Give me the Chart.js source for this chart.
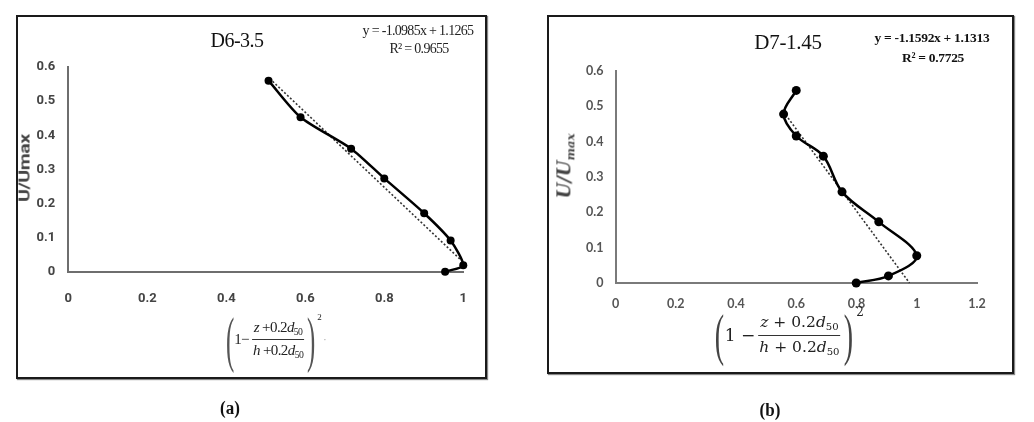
<!DOCTYPE html>
<html>
<head>
<meta charset="utf-8">
<script src="https://cdn.jsdelivr.net/npm/chart.js@4/dist/chart.umd.min.js"></script>
<style>
  html,body{margin:0;padding:0;background:#fff;}
  body{width:1034px;height:422px;position:relative;overflow:hidden;font-family:"Liberation Serif",serif;}
  .panel{position:absolute;border:2px solid #1a1a1a;box-sizing:border-box;box-shadow:1px 1px 1px #888;}
  canvas{position:absolute;}
  .t{position:absolute;transform:translate(-50%,-50%);white-space:nowrap;line-height:1;}
  .frm{position:absolute;transform:translate(-50%,-50%);display:flex;align-items:center;white-space:nowrap;color:#222;}
  .frac{display:inline-flex;flex-direction:column;align-items:center;margin:0 2px;}
  .frac .num{border-bottom:1px solid #333;padding:0 2px 2px 2px;}
  .frac .den{padding:2px 2px 0 2px;}
  .paren{display:inline-block;font-weight:100;line-height:1;}
  i{font-style:italic;}
  sub{font-size:65%;vertical-align:-0.3em;}
</style>
</head>
<body>
<div class="panel" style="left:16px;top:15px;width:471px;height:364px;"></div>
<div class="panel" style="left:547px;top:15px;width:467px;height:359px;"></div>

<canvas id="ca" width="469" height="362" style="left:17px;top:16px;"></canvas>
<canvas id="cb" width="465" height="357" style="left:548px;top:16px;"></canvas>

<!-- panel (a) texts -->
<div class="t" style="left:237px;top:40px;font-size:20px;color:#111;letter-spacing:-0.5px;">D6-3.5</div>
<div class="t" style="left:418px;top:31px;font-size:14px;color:#222;letter-spacing:-0.7px;">y = -1.0985x + 1.1265</div>
<div class="t" style="left:419px;top:49px;font-size:14px;color:#222;letter-spacing:-0.7px;">R² = 0.9655</div>
<div class="t" style="left:25px;top:168px;transform:translate(-50%,-50%) rotate(-90deg) scaleX(1.3);font-family:Roboto,sans-serif;font-weight:bold;font-size:15px;letter-spacing:-0.3px;color:#444;">U/Umax</div>
<div class="frm" style="left:273px;top:339px;font-size:15px;letter-spacing:-0.6px;">
  <span class="paren" style="font-size:62px;transform:scaleX(0.4);margin-right:-6px;color:#555;">(</span>
  <span>1−</span>
  <span class="frac"><span class="num"><i>z</i> +0.2<i>d</i><sub>50</sub></span><span class="den"><i>h</i> +0.2<i>d</i><sub>50</sub></span></span>
  <span class="paren" style="font-size:62px;transform:scaleX(0.4);margin-left:-6px;color:#555;">)</span>
  <span style="font-size:9px;align-self:flex-start;margin-top:4px;margin-left:-4px;">2</span>
  <span style="font-size:10px;margin-left:2px;color:#999;">·</span>
</div>
<div class="t" style="left:230px;top:408px;font-size:17px;font-weight:bold;color:#111;transform:translate(-50%,-50%) scaleY(1.15);">(a)</div>

<!-- panel (b) texts -->
<div class="t" style="left:788px;top:42px;font-size:21px;color:#111;letter-spacing:-0.3px;">D7-1.45</div>
<div class="t" style="left:932px;top:38px;font-size:13.5px;font-weight:bold;color:#111;letter-spacing:-0.3px;">y = -1.1592x + 1.1313</div>
<div class="t" style="left:933px;top:58px;font-size:13.5px;font-weight:bold;color:#111;letter-spacing:-0.3px;">R² = 0.7725</div>
<div class="t" style="left:566px;top:166px;transform:translate(-50%,-50%) rotate(-90deg);font-family:'DejaVu Serif',serif;font-style:italic;font-weight:bold;font-size:18px;color:#444;">U/U<sub style="font-style:italic;">max</sub></div>
<div class="frm" style="left:787px;top:335px;font-size:17px;font-family:'DejaVu Serif',serif;">
  <span class="paren" style="font-size:56px;transform:scaleX(0.5);margin-right:-4px;color:#444;font-family:'Liberation Serif',serif;">(</span>
  <span>1 − </span>
  <span class="frac" style="font-size:15.5px;"><span class="num"><i>z</i> + 0.2<i>d</i><sub>50</sub></span><span class="den"><i>h</i> + 0.2<i>d</i><sub>50</sub></span></span>
  <span class="paren" style="font-size:56px;transform:scaleX(0.5);margin-left:-4px;color:#444;font-family:'Liberation Serif',serif;">)</span>
  <span style="font-size:12px;align-self:flex-start;margin-top:-2px;margin-left:-2px;">2</span>
</div>
<div class="t" style="left:770px;top:410px;font-size:17px;font-weight:bold;color:#111;transform:translate(-50%,-50%) scaleY(1.15);">(b)</div>

<script>
// ---- Panel (a) D6-3.5 ----
const xA = [0.507, 0.588, 0.716, 0.800, 0.901, 0.968, 1.000, 0.954];
const yA = [0.560, 0.453, 0.361, 0.274, 0.172, 0.092, 0.020, 0.001];
const trendXA = [0.51, 0.995];
const trendYA = [0.566, 0.034];
const xTicksA = ['0', '0.2', '0.4', '0.6', '0.8', '1'];
const yTicksA = ['0', '0.1', '0.2', '0.3', '0.4', '0.5', '0.6'];

// ---- Panel (b) D7-1.45 ----
const xB = [0.600, 0.558, 0.600, 0.690, 0.752, 0.874, 1.000, 0.906, 0.799];
const yB = [0.545, 0.478, 0.416, 0.359, 0.258, 0.173, 0.077, 0.020, 0.000];
const trendXB = [0.565, 0.976];
const trendYB = [0.476, 0.000];
const xTicksB = ['0', '0.2', '0.4', '0.6', '0.8', '1', '1.2'];
const yTicksB = ['0', '0.1', '0.2', '0.3', '0.4', '0.5', '0.6'];

function pts(xs, ys) { return xs.map((x, i) => ({ x: x, y: ys[i] })); }

function makeChart(id, cfg) {
  return new Chart(document.getElementById(id), {
    type: 'scatter',
    data: {
      datasets: [
        {
          data: pts(cfg.x, cfg.y),
          showLine: true,
          borderColor: '#000',
          backgroundColor: '#000',
          borderWidth: cfg.lineW,
          pointRadius: cfg.ptR,
          pointBorderWidth: 0,
          pointBackgroundColor: '#000',
          tension: cfg.tension,
          clip: false,
          order: 1
        },
        {
          data: pts(cfg.tx, cfg.ty),
          showLine: true,
          borderColor: '#333',
          borderWidth: 1.6,
          borderDash: [2, 2],
          pointRadius: 0,
          clip: false,
          order: 2
        }
      ]
    },
    options: {
      responsive: false,
      animation: false,
      devicePixelRatio: 1,
      layout: { padding: cfg.pad },
      plugins: { legend: { display: false }, tooltip: { enabled: false } },
      scales: {
        x: {
          type: 'linear', min: 0, max: cfg.xMax,
          grid: { display: false, drawTicks: false },
          border: { display: true, color: cfg.axisColor, width: 2 },
          ticks: {
            stepSize: 0.2, padding: cfg.xPad, color: cfg.tickColor,
            font: cfg.tickFont, maxRotation: 0,
            callback: (v, i) => cfg.xTicks[i]
          },
          afterFit: s => { s.height = cfg.xH; }
        },
        y: {
          type: 'linear', min: 0, max: 0.6,
          grid: { display: false, drawTicks: false },
          border: { display: true, color: cfg.axisColor, width: 2 },
          ticks: {
            stepSize: 0.1, padding: cfg.yPad, color: cfg.tickColor,
            font: cfg.tickFont,
            callback: (v, i) => cfg.yTicks[i]
          },
          afterFit: s => { s.width = cfg.yW; }
        }
      }
    }
  });
}

makeChart('ca', {
  x: xA, y: yA, tx: trendXA, ty: trendYA, xTicks: xTicksA, yTicks: yTicksA,
  xMax: 1, pad: { left: 0, top: 51, right: 7, bottom: 0 },
  xH: 106, yW: 51.3, xPad: 19, yPad: 13,
  lineW: 2.5, ptR: 4, tension: 0.25,
  axisColor: '#6e6e6e', tickColor: '#444',
  tickFont: { family: "Roboto, sans-serif", size: 13, weight: 'bold' }
});

makeChart('cb', {
  x: xB, y: yB, tx: trendXB, ty: trendYB, xTicks: xTicksB, yTicks: yTicksB,
  xMax: 1.2, pad: { left: 0, top: 55, right: 36, bottom: 0 },
  xH: 90, yW: 67.5, xPad: 13, yPad: 12,
  lineW: 2.5, ptR: 4.5, tension: 0.35,
  axisColor: '#7a7a7a', tickColor: '#555',
  tickFont: { family: "Lato, sans-serif", size: 12.5, weight: 'bold' }
});
</script>
</body>
</html>
